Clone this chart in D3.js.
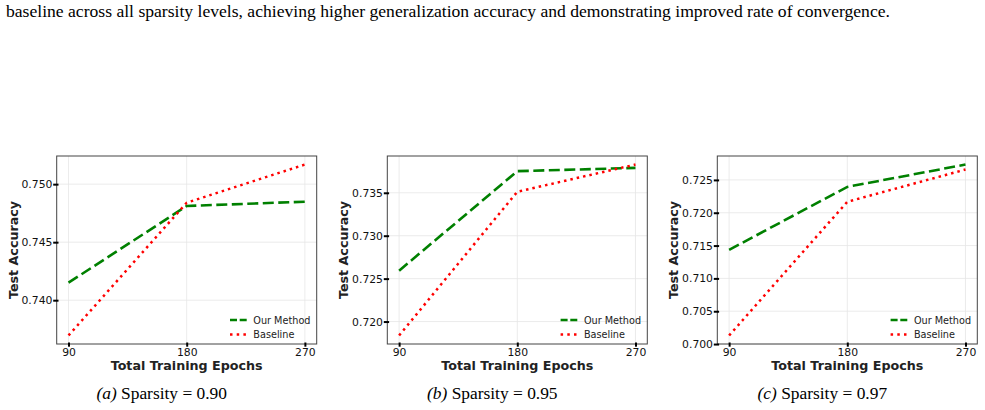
<!DOCTYPE html>
<html>
<head>
<meta charset="utf-8">
<script src="https://cdn.jsdelivr.net/npm/d3@7"></script>
<style>
  body { margin: 0; background: #fff; }
  svg { display: block; }
</style>
</head>
<body>
<svg id="fig" width="985" height="410"></svg>
<script>
// data
var epochs = [90, 180, 270];
var panelNames = ["a", "b", "c"];
var sparsity = ["0.90", "0.95", "0.97"];
var ourMethod = [
  [0.74151, 0.74812, 0.74849],
  [0.72593, 0.73752, 0.73790],
  [0.71435, 0.72394, 0.72734]
];
var baseline = [
  [0.73696, 0.74840, 0.75169],
  [0.71838, 0.73512, 0.73829],
  [0.70131, 0.72167, 0.72658]
];
var yTicks = [
  [0.740, 0.745, 0.750],
  [0.720, 0.725, 0.730, 0.735],
  [0.700, 0.705, 0.710, 0.715, 0.720, 0.725]
];

var svg = d3.select("#fig");

// caption text above the figure
svg.append("text")
  .attr("x", 6).attr("y", 17)
  .style("font-family", "'Liberation Serif', 'Times New Roman', serif")
  .style("font-size", "17.6px")
  .attr("fill", "#000")
  .text("baseline across all sparsity levels, achieving higher generalization accuracy and demonstrating improved rate of convergence.");

var lefts = [56.7, 387.3, 717.3];
var boxW = 260, boxTop = 156, boxBottom = 344;
var sans = "'DejaVu Sans', sans-serif";
var greenDash = "11,4.5", redDot = "2.5,4";

function drawPanel(i) {
  var x0 = lefts[i], x1 = x0 + boxW;
  var g = svg.append("g");

  // matplotlib style 5% margins
  var x = d3.scaleLinear().domain([81, 279]).range([x0, x1]);
  var all = ourMethod[i].concat(baseline[i]);
  var ext = d3.extent(all), pad = (ext[1] - ext[0]) * 0.05;
  var y = d3.scaleLinear().domain([ext[0] - pad, ext[1] + pad]).range([boxBottom, boxTop]);

  // grid
  g.selectAll(".gx").data(epochs).enter().append("line")
    .attr("x1", d => x(d)).attr("x2", d => x(d))
    .attr("y1", boxTop).attr("y2", boxBottom)
    .attr("stroke", "#e6e6e6").attr("stroke-width", 0.8);
  g.selectAll(".gy").data(yTicks[i]).enter().append("line")
    .attr("x1", x0).attr("x2", x1)
    .attr("y1", d => y(d)).attr("y2", d => y(d))
    .attr("stroke", "#e6e6e6").attr("stroke-width", 0.8);

  // lines
  var line = d3.line().x((d, k) => x(epochs[k])).y(d => y(d));
  g.append("path").datum(ourMethod[i])
    .attr("d", line).attr("fill", "none")
    .attr("stroke", "#008000").attr("stroke-width", 2.6)
    .attr("stroke-dasharray", greenDash);
  g.append("path").datum(baseline[i])
    .attr("d", line).attr("fill", "none")
    .attr("stroke", "#ff0000").attr("stroke-width", 2.5)
    .attr("stroke-dasharray", redDot);

  // frame
  g.append("rect")
    .attr("x", x0).attr("y", boxTop).attr("width", boxW).attr("height", boxBottom - boxTop)
    .attr("fill", "none").attr("stroke", "#444").attr("stroke-width", 1);

  // axes (ticks cross the spine, like matplotlib "inout")
  var xAxis = d3.axisBottom(x).tickValues(epochs).tickSize(0).tickPadding(4.3);
  var gx = g.append("g").attr("transform", "translate(0," + boxBottom + ")").call(xAxis);
  gx.selectAll(".tick line").attr("y1", -1.5).attr("y2", 2.7);
  var yAxis = d3.axisLeft(y).tickValues(yTicks[i]).tickFormat(d3.format(".3f"))
    .tickSize(0).tickPadding(4.3);
  var gy = g.append("g").attr("transform", "translate(" + x0 + ",0)").call(yAxis);
  gy.selectAll(".tick line").attr("x1", -3.5).attr("x2", 1.8);
  [gx, gy].forEach(function(a) {
    a.select(".domain").remove();
    a.selectAll(".tick line").attr("stroke", "#000").attr("stroke-width", 2);
    a.selectAll(".tick text").attr("fill", "#111")
      .style("font-family", sans).style("font-size", "10.8px");
  });

  // axis labels
  g.append("text")
    .attr("x", (x0 + x1) / 2).attr("y", 370)
    .attr("text-anchor", "middle")
    .style("font-family", sans).style("font-size", "12.7px").style("font-weight", "bold")
    .attr("fill", "#222")
    .text("Total Training Epochs");
  g.append("text")
    .attr("transform", "translate(" + (x0 - 39) + "," + ((boxTop + boxBottom) / 2) + ") rotate(-90)")
    .attr("text-anchor", "middle")
    .style("font-family", sans).style("font-size", "12.7px").style("font-weight", "bold")
    .attr("fill", "#222")
    .text("Test Accuracy");

  // legend
  var items = [
    { name: "Our Method", color: "#008000", dash: "7,2.7" },
    { name: "Baseline", color: "#ff0000", dash: "2.5,4.2" }
  ];
  items.forEach(function(it, k) {
    var ly = boxBottom - 24 + k * 14.5;
    g.append("line")
      .attr("x1", x1 - 86.7).attr("x2", x1 - 69.5)
      .attr("y1", ly).attr("y2", ly)
      .attr("stroke", it.color).attr("stroke-width", 2.5)
      .attr("stroke-dasharray", it.dash);
    g.append("text")
      .attr("x", x1 - 63.4).attr("y", ly + 3.5)
      .style("font-family", sans).style("font-size", "9.7px")
      .attr("fill", "#222")
      .text(it.name);
  });

  // subfigure caption
  var cap = svg.append("text")
    .attr("x", (x0 + x1) / 2 - 25).attr("y", 399)
    .attr("text-anchor", "middle")
    .style("font-family", "'Liberation Serif', 'Times New Roman', serif")
    .style("font-size", "17.4px")
    .attr("fill", "#000");
  cap.append("tspan").style("font-style", "italic").text("(" + panelNames[i] + ")");
  cap.append("tspan").text(" Sparsity = " + sparsity[i]);
}

[0, 1, 2].forEach(drawPanel);
</script>
</body>
</html>
